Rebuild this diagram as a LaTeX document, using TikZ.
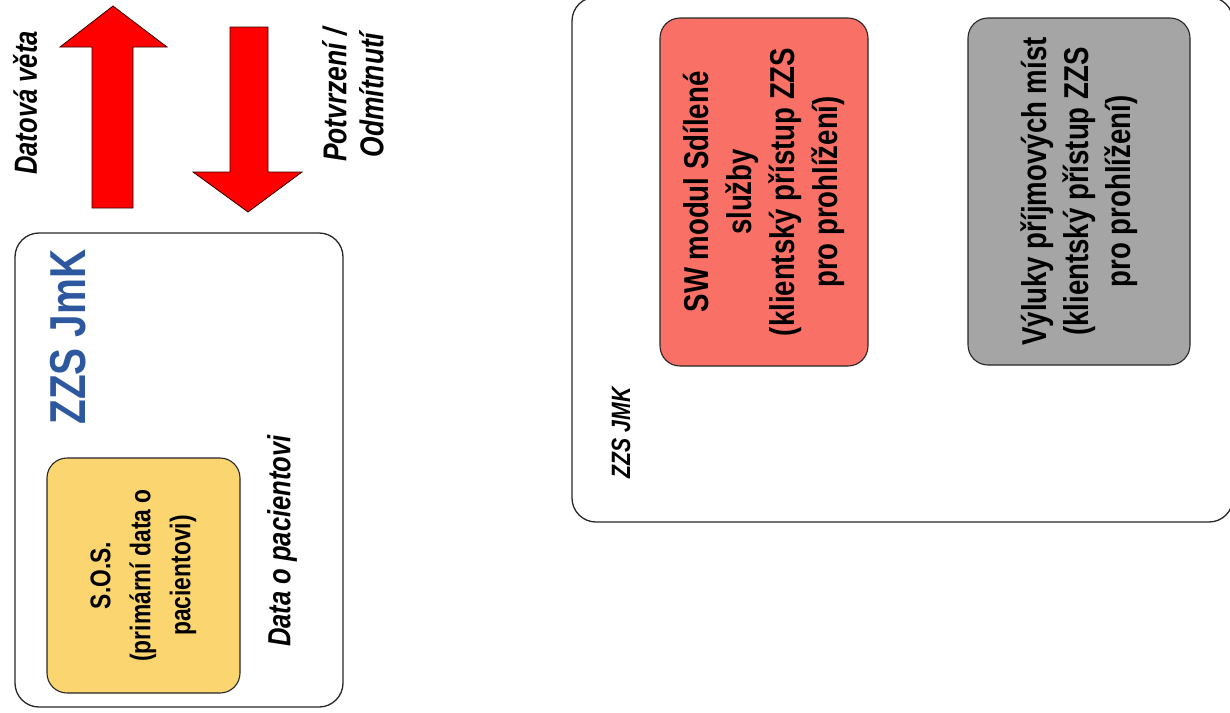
\documentclass[tikz,border=0pt]{standalone}
\usepackage{fontspec}
\setmainfont{Liberation Sans}[FakeStretch=0.8]
\definecolor{sosyellow}{RGB}{250,213,112}
\definecolor{swred}{RGB}{249,112,102}
\definecolor{vylgray}{RGB}{165,165,165}
\definecolor{jmkblue}{RGB}{45,88,160}

\begin{document}
\begin{tikzpicture}[x=1pt,y=-1pt,
	frame/.style={draw=black!85,rounded corners=24pt,line width=1.3pt},
	box/.style={draw=black!85,rounded corners=20pt,line width=1.1pt,rotate=90,align=center,font=\bfseries},
	lbl/.style={rotate=90,align=center,font=\bfseries\itshape},
	bigarrow/.style={fill=red,draw=black!80!red,line width=0.8pt}]
	\useasboundingbox (0,0) rectangle (1230,712);
	% data flow arrows
	\draw[bigarrow] (92,208) -- (92,47) -- (60,47) -- (113,6) -- (167,47) -- (133,47) -- (133,208) -- cycle;
	\draw[bigarrow] (230,27) -- (268,27) -- (268,172) -- (302,172) -- (248,212) -- (193,172) -- (230,172) -- cycle;
	\node[lbl,font=\fontsize{32}{37}\bfseries\itshape] (veta) at (25,103) {Datová věta};
	\node[lbl,font=\fontsize{33}{37}\bfseries\itshape] (potvrz) at (353,95) {Potvrzení /\\Odmítnutí};
	% left block
	\node[frame,minimum width=328pt,minimum height=474pt] (jmk) at (179,470) {};
	\node[rotate=90,font=\fontsize{50.5}{54}\bfseries,text=jmkblue] (jmktitle) at (68,337) {ZZS JmK};
	\node[box,fill=sosyellow,minimum width=235pt,minimum height=193pt,font=\fontsize{28.5}{40}\bfseries] (sos) at (143.5,575.5)
		{S.O.S.\\(primární data o\\pacientovi)};
	\node[lbl,font=\fontsize{32}{37}\bfseries\itshape] (pacdata) at (282,541) {Data o pacientovi};
	% right block
	\node[frame,minimum width=661pt,minimum height=525pt] (zzs) at (902.5,259.5) {};
	\node[lbl,font=\fontsize{26.5}{30}\bfseries\itshape] (zzslbl) at (621,433) {ZZS JMK};
	\node[box,fill=swred,minimum width=348pt,minimum height=208pt,font=\fontsize{34.5}{43}\bfseries] (sw) at (764,192)
		{SW modul Sdílené\\služby\\(klientský přístup ZZS\\pro prohlížení)};
	\node[box,fill=vylgray,minimum width=347pt,minimum height=222pt,font=\fontsize{34.5}{42}\bfseries] (vyl) at (1079,191.5)
		{Výluky příjmových míst\\(klientský přístup ZZS\\pro prohlížení)};
\end{tikzpicture}
\end{document}
